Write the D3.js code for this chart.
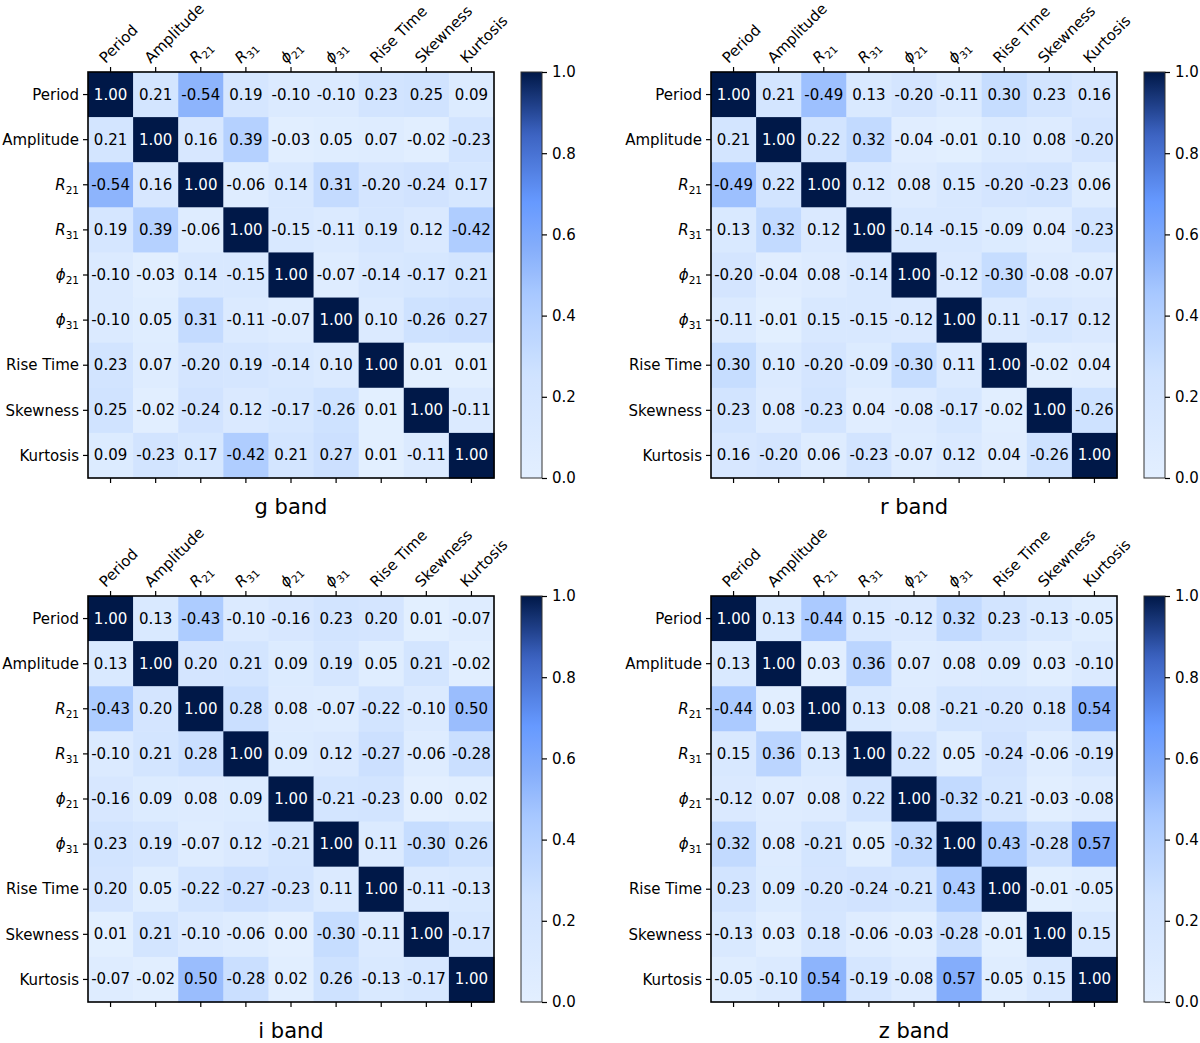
<!DOCTYPE html>
<html>
<head>
<meta charset="utf-8">
<script src="https://cdn.jsdelivr.net/npm/d3@7"></script>
<style>
  body { margin: 0; background: #fff; }
  svg { display: block; font-family: "DejaVu Sans", sans-serif; }
</style>
</head>
<body>
<script>
// features (same order on both axes)
const features = ["Period", "Amplitude", "R21", "R31", "phi21", "phi31", "Rise Time", "Skewness", "Kurtosis"];

const bands = ["g band", "r band", "i band", "z band"];

const gBand = [
  [1.00, 0.21, -0.54, 0.19, -0.10, -0.10, 0.23, 0.25, 0.09],
  [0.21, 1.00, 0.16, 0.39, -0.03, 0.05, 0.07, -0.02, -0.23],
  [-0.54, 0.16, 1.00, -0.06, 0.14, 0.31, -0.20, -0.24, 0.17],
  [0.19, 0.39, -0.06, 1.00, -0.15, -0.11, 0.19, 0.12, -0.42],
  [-0.10, -0.03, 0.14, -0.15, 1.00, -0.07, -0.14, -0.17, 0.21],
  [-0.10, 0.05, 0.31, -0.11, -0.07, 1.00, 0.10, -0.26, 0.27],
  [0.23, 0.07, -0.20, 0.19, -0.14, 0.10, 1.00, 0.01, 0.01],
  [0.25, -0.02, -0.24, 0.12, -0.17, -0.26, 0.01, 1.00, -0.11],
  [0.09, -0.23, 0.17, -0.42, 0.21, 0.27, 0.01, -0.11, 1.00]
];

const rBand = [
  [1.00, 0.21, -0.49, 0.13, -0.20, -0.11, 0.30, 0.23, 0.16],
  [0.21, 1.00, 0.22, 0.32, -0.04, -0.01, 0.10, 0.08, -0.20],
  [-0.49, 0.22, 1.00, 0.12, 0.08, 0.15, -0.20, -0.23, 0.06],
  [0.13, 0.32, 0.12, 1.00, -0.14, -0.15, -0.09, 0.04, -0.23],
  [-0.20, -0.04, 0.08, -0.14, 1.00, -0.12, -0.30, -0.08, -0.07],
  [-0.11, -0.01, 0.15, -0.15, -0.12, 1.00, 0.11, -0.17, 0.12],
  [0.30, 0.10, -0.20, -0.09, -0.30, 0.11, 1.00, -0.02, 0.04],
  [0.23, 0.08, -0.23, 0.04, -0.08, -0.17, -0.02, 1.00, -0.26],
  [0.16, -0.20, 0.06, -0.23, -0.07, 0.12, 0.04, -0.26, 1.00]
];

const iBand = [
  [1.00, 0.13, -0.43, -0.10, -0.16, 0.23, 0.20, 0.01, -0.07],
  [0.13, 1.00, 0.20, 0.21, 0.09, 0.19, 0.05, 0.21, -0.02],
  [-0.43, 0.20, 1.00, 0.28, 0.08, -0.07, -0.22, -0.10, 0.50],
  [-0.10, 0.21, 0.28, 1.00, 0.09, 0.12, -0.27, -0.06, -0.28],
  [-0.16, 0.09, 0.08, 0.09, 1.00, -0.21, -0.23, 0.00, 0.02],
  [0.23, 0.19, -0.07, 0.12, -0.21, 1.00, 0.11, -0.30, 0.26],
  [0.20, 0.05, -0.22, -0.27, -0.23, 0.11, 1.00, -0.11, -0.13],
  [0.01, 0.21, -0.10, -0.06, 0.00, -0.30, -0.11, 1.00, -0.17],
  [-0.07, -0.02, 0.50, -0.28, 0.02, 0.26, -0.13, -0.17, 1.00]
];

const zBand = [
  [1.00, 0.13, -0.44, 0.15, -0.12, 0.32, 0.23, -0.13, -0.05],
  [0.13, 1.00, 0.03, 0.36, 0.07, 0.08, 0.09, 0.03, -0.10],
  [-0.44, 0.03, 1.00, 0.13, 0.08, -0.21, -0.20, 0.18, 0.54],
  [0.15, 0.36, 0.13, 1.00, 0.22, 0.05, -0.24, -0.06, -0.19],
  [-0.12, 0.07, 0.08, 0.22, 1.00, -0.32, -0.21, -0.03, -0.08],
  [0.32, 0.08, -0.21, 0.05, -0.32, 1.00, 0.43, -0.28, 0.57],
  [0.23, 0.09, -0.20, -0.24, -0.21, 0.43, 1.00, -0.01, -0.05],
  [-0.13, 0.03, 0.18, -0.06, -0.03, -0.28, -0.01, 1.00, 0.15],
  [-0.05, -0.10, 0.54, -0.19, -0.08, 0.57, -0.05, 0.15, 1.00]
];

const colorbarTicks = [0.0, 0.2, 0.4, 0.6, 0.8, 1.0];

const matrices = [gBand, rBand, iBand, zBand];

// colormap (light blue -> bright blue -> navy), applied to |r|
const color = d3.scaleLinear()
  .domain([0, 0.25, 0.45, 0.57, 0.68, 0.85, 1])
  .range(["#e3efff", "#d0e3ff", "#a9c9ff", "#84adfb", "#6699ff", "#3b62c0", "#001848"])
  .interpolate(d3.interpolateRgb)
  .clamp(true);

const W = 1200, H = 1043;
const size = 406;
const FONT = "DejaVu Sans";
const origins = [[88, 72], [711, 72], [88, 596], [711, 596]];

const svg = d3.select("body").append("svg")
  .attr("width", W)
  .attr("height", H);

const defs = svg.append("defs");
const grad = defs.append("linearGradient")
  .attr("id", "cbar")
  .attr("x1", "0").attr("y1", "1")
  .attr("x2", "0").attr("y2", "0");
d3.range(0, 1.0001, 0.02).forEach(t => {
  grad.append("stop").attr("offset", t).attr("stop-color", color(t));
});

// label with mathtext-ish subscripts
function writeLabel(sel, name) {
  const m = name.match(/^(R|phi)(\d+)$/);
  if (!m) {
    sel.text(name);
    return;
  }
  sel.append("tspan")
    .attr("font-style", "italic")
    .text(m[1] === "phi" ? "\u03D5" : "R");
  sel.append("tspan")
    .attr("font-size", 10.5)
    .attr("dy", 4)
    .text(m[2]);
}

function drawPanel(idx) {
  const data = matrices[idx];
  const [ox, oy] = origins[idx];
  const g = svg.append("g").attr("transform", `translate(${ox},${oy})`);

  const x = d3.scaleBand().domain(features).range([0, size]);
  const y = d3.scaleBand().domain(features).range([0, size]);

  const cells = [];
  data.forEach((row, i) => row.forEach((v, j) => cells.push({ r: features[i], c: features[j], v: v })));

  g.selectAll("rect.cell")
    .data(cells)
    .join("rect")
    .attr("class", "cell")
    .attr("x", d => x(d.c))
    .attr("y", d => y(d.r))
    .attr("width", x.bandwidth() + 0.5)
    .attr("height", y.bandwidth() + 0.5)
    .attr("fill", d => color(Math.abs(d.v)));

  g.selectAll("text.val")
    .data(cells)
    .join("text")
    .attr("class", "val")
    .attr("x", d => x(d.c) + x.bandwidth() / 2)
    .attr("y", d => y(d.r) + y.bandwidth() / 2)
    .attr("text-anchor", "middle")
    .attr("dominant-baseline", "central")
    .attr("font-family", FONT)
    .attr("font-size", 15)
    .attr("fill", d => Math.abs(d.v) > 0.75 ? "#fff" : "#000")
    .text(d => d.v.toFixed(2));

  // axes
  const tickStyle = a => {
    a.attr("font-family", FONT).attr("font-size", 15);
    a.select(".domain").remove();
    a.selectAll(".tick line").attr("stroke", "#000").attr("stroke-width", 1.2);
  };

  const left = g.append("g")
    .call(d3.axisLeft(y).tickSize(5).tickFormat(""))
    .call(tickStyle);
  left.selectAll(".tick text").remove();
  left.selectAll(".tick").append("text")
    .attr("x", -9)
    .attr("dy", "0.35em")
    .attr("text-anchor", "end")
    .attr("fill", "#000")
    .each(function (d) { writeLabel(d3.select(this), d); });

  const top = g.append("g")
    .call(d3.axisTop(x).tickSize(5).tickFormat(""))
    .call(tickStyle);
  top.selectAll(".tick text").remove();
  top.selectAll(".tick").append("text")
    .attr("transform", "translate(-5,-8) rotate(-45)")
    .attr("text-anchor", "start")
    .attr("fill", "#000")
    .each(function (d) { writeLabel(d3.select(this), d); });

  g.append("g")
    .attr("transform", `translate(0,${size})`)
    .call(d3.axisBottom(x).tickSize(5).tickFormat(""))
    .call(tickStyle);

  g.append("rect")
    .attr("width", size)
    .attr("height", size)
    .attr("fill", "none")
    .attr("stroke", "#000")
    .attr("stroke-width", 1.6);

  // title
  g.append("text")
    .attr("x", size / 2)
    .attr("y", size + 36)
    .attr("text-anchor", "middle")
    .attr("font-family", FONT)
    .attr("font-size", 21)
    .attr("fill", "#000")
    .text(bands[idx]);

  // colorbar
  const cb = svg.append("g").attr("transform", `translate(${ox + size + 27},${oy})`);
  const cy = d3.scaleLinear().domain([0, 1]).range([size, 0]);
  cb.append("rect")
    .attr("width", 21)
    .attr("height", size)
    .attr("fill", "url(#cbar)")
    .attr("stroke", "#333")
    .attr("stroke-width", 1);
  const cax = cb.append("g")
    .attr("transform", "translate(21,0)")
    .call(d3.axisRight(cy).tickValues(colorbarTicks).tickSize(5).tickPadding(5).tickFormat(d3.format(".1f")))
    .call(tickStyle);
  cax.selectAll(".tick text").attr("fill", "#000");
}

bands.forEach((b, i) => drawPanel(i));
</script>
</body>
</html>
